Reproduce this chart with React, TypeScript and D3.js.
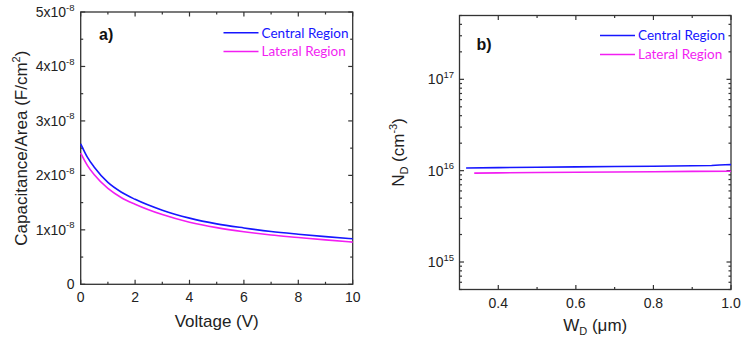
import * as d3 from "d3";

// panel a) C-V curves
const voltage = [0, 0.25, 0.5, 1, 1.5, 2, 3, 4, 5, 6, 7, 8, 9, 10];
const capCentral = [2.58, 2.33, 2.15, 1.87, 1.69, 1.56, 1.36, 1.215, 1.11, 1.035, 0.97, 0.92, 0.875, 0.835];
const capLateral = [2.41, 2.18, 2.01, 1.76, 1.59, 1.47, 1.28, 1.14, 1.04, 0.965, 0.905, 0.86, 0.815, 0.775];

// panel b) doping profile (x1e16 cm^-3)
const wCentral = [0.317, 0.4, 0.5, 0.6, 0.7, 0.8, 0.9, 0.95, 0.97, 0.985, 1.0];
const ndCentral = [1.07, 1.08, 1.09, 1.1, 1.11, 1.12, 1.13, 1.14, 1.155, 1.16, 1.165];
const wLateral = [0.338, 0.4, 0.5, 0.6, 0.7, 0.8, 0.9, 1.0];
const ndLateral = [0.94, 0.945, 0.955, 0.962, 0.968, 0.975, 0.982, 0.985];

const capTicks = [0, 1, 2, 3, 4, 5];
const voltTicks = [0, 2, 4, 6, 8, 10];
const wTicks = [0.4, 0.6, 0.8, 1.0];
const ndDecades = [15, 16, 17];

const seriesNames = ["Central Region", "Lateral Region"];
const BLUE = "#1616ff";
const MAGENTA = "#f21ef2";
const AXIS = "#333";
const FONT = "Arial, 'Liberation Sans', sans-serif";
const LEG_FONT = "Lato, 'Open Sans', sans-serif";

const MAJ = 4.5;
const MIN = 2.5;

function Frame({ x0, x1, y0, y1 }: { x0: number; x1: number; y0: number; y1: number }) {
  return (
    <rect x={x0} y={y0} width={x1 - x0} height={y1 - y0} fill="none" stroke={AXIS} strokeWidth={1.3} />
  );
}

function Legend({ x, y, gap }: { x: number; y: number; gap: number }) {
  const cols = [BLUE, MAGENTA];
  return (
    <g>
      {seriesNames.map((n, i) => (
        <g key={n}>
          <line x1={x} x2={x + 35} y1={y + i * gap} y2={y + i * gap} stroke={cols[i]} strokeWidth={1.5} />
          <text x={x + 38} y={y + i * gap + 4.8} fill={cols[i]} fontFamily={LEG_FONT} fontSize={13.5}>
            {n}
          </text>
        </g>
      ))}
    </g>
  );
}

function PanelA() {
  const x = d3.scaleLinear().domain([0, 10]).range([80.7, 352.7]);
  const y = d3.scaleLinear().domain([0, 5]).range([284.3, 12]);
  const [x0, x1] = x.range();
  const [y0, y1] = [y(5), y(0)];
  const line = d3.line<number>().x((_, i) => x(voltage[i])).y((d) => y(d)).curve(d3.curveMonotoneX);
  const minorX = d3.range(1, 10, 2);
  const minorY = d3.range(0.5, 5, 1);

  return (
    <g>
      <Frame x0={x0} x1={x1} y0={y0} y1={y1} />
      {voltTicks.map((t) => (
        <g key={"vx" + t}>
          <line x1={x(t)} x2={x(t)} y1={y1} y2={y1 - MAJ} stroke={AXIS} strokeWidth={1.2} />
          <line x1={x(t)} x2={x(t)} y1={y0} y2={y0 + MAJ} stroke={AXIS} strokeWidth={1.2} />
          <text x={x(t)} y={302} textAnchor="middle" fontFamily={FONT} fontSize={14} fill="#222">
            {t}
          </text>
        </g>
      ))}
      {minorX.map((t) => (
        <g key={"mx" + t}>
          <line x1={x(t)} x2={x(t)} y1={y1} y2={y1 - MIN} stroke={AXIS} strokeWidth={1.2} />
          <line x1={x(t)} x2={x(t)} y1={y0} y2={y0 + MIN} stroke={AXIS} strokeWidth={1.2} />
        </g>
      ))}
      {capTicks.map((t) => (
        <g key={"cy" + t}>
          <line x1={x0} x2={x0 + MAJ} y1={y(t)} y2={y(t)} stroke={AXIS} strokeWidth={1.2} />
          <line x1={x1} x2={x1 - MAJ} y1={y(t)} y2={y(t)} stroke={AXIS} strokeWidth={1.2} />
          <text x={74.5} y={y(t) + 5} textAnchor="end" fontFamily={FONT} fontSize={14} fill="#222">
            {t === 0 ? (
              "0"
            ) : (
              <>
                {t}x10
                <tspan fontSize={9.5} dy={-6.5}>
                  -8
                </tspan>
              </>
            )}
          </text>
        </g>
      ))}
      {minorY.map((t) => (
        <g key={"my" + t}>
          <line x1={x0} x2={x0 + MIN} y1={y(t)} y2={y(t)} stroke={AXIS} strokeWidth={1.2} />
          <line x1={x1} x2={x1 - MIN} y1={y(t)} y2={y(t)} stroke={AXIS} strokeWidth={1.2} />
        </g>
      ))}
      <path d={line(capLateral) || ""} fill="none" stroke={MAGENTA} strokeWidth={1.6} />
      <path d={line(capCentral) || ""} fill="none" stroke={BLUE} strokeWidth={1.6} />
      <Legend x={223.5} y={32.8} gap={18.8} />
      <text x={99} y={40} fontFamily={FONT} fontWeight="bold" fontSize={16} fill="#111">
        a)
      </text>
      <text x={(x0 + x1) / 2} y={327} textAnchor="middle" fontFamily={FONT} fontSize={17} fill="#222">
        Voltage (V)
      </text>
      <text
        transform={`translate(27,${(y0 + y1) / 2}) rotate(-90)`}
        textAnchor="middle"
        fontFamily={FONT}
        fontSize={17}
        fill="#222"
      >
        Capacitance/Area (F/cm
        <tspan fontSize={11} dy={-7}>
          2
        </tspan>
        <tspan dy={7}>)</tspan>
      </text>
    </g>
  );
}

function PanelB() {
  const x = d3.scaleLinear().domain([0.3, 1.0]).range([459.5, 731]);
  const y = d3.scaleLog().domain([5e14, 5e17]).range([289.5, 15.5]);
  const [x0, x1] = x.range();
  const [y0, y1] = [y(5e17), y(5e14)];
  const lineC = d3.line<number>().x((_, i) => x(wCentral[i])).y((d) => y(d * 1e16));
  const lineL = d3.line<number>().x((_, i) => x(wLateral[i])).y((d) => y(d * 1e16));
  const minorX = [0.5, 0.7, 0.9];
  const minorY: number[] = [];
  [14, 15, 16, 17].forEach((e) => {
    for (let m = 2; m <= 9; m++) {
      const v = m * Math.pow(10, e);
      if (v >= 5e14 && v <= 5e17) minorY.push(v);
    }
  });

  return (
    <g>
      <Frame x0={x0} x1={x1} y0={y0} y1={y1} />
      {wTicks.map((t) => (
        <g key={"wx" + t}>
          <line x1={x(t)} x2={x(t)} y1={y1} y2={y1 - MAJ} stroke={AXIS} strokeWidth={1.2} />
          <line x1={x(t)} x2={x(t)} y1={y0} y2={y0 + MAJ} stroke={AXIS} strokeWidth={1.2} />
          <text x={x(t)} y={307.5} textAnchor="middle" fontFamily={FONT} fontSize={14} fill="#222">
            {t.toFixed(1)}
          </text>
        </g>
      ))}
      {minorX.map((t) => (
        <g key={"mwx" + t}>
          <line x1={x(t)} x2={x(t)} y1={y1} y2={y1 - MIN} stroke={AXIS} strokeWidth={1.2} />
          <line x1={x(t)} x2={x(t)} y1={y0} y2={y0 + MIN} stroke={AXIS} strokeWidth={1.2} />
        </g>
      ))}
      {ndDecades.map((e) => {
        const v = Math.pow(10, e);
        return (
          <g key={"nd" + e}>
            <line x1={x0} x2={x0 + MAJ} y1={y(v)} y2={y(v)} stroke={AXIS} strokeWidth={1.2} />
            <line x1={x1} x2={x1 - MAJ} y1={y(v)} y2={y(v)} stroke={AXIS} strokeWidth={1.2} />
            <text x={454} y={y(v) + 5} textAnchor="end" fontFamily={FONT} fontSize={14} fill="#222">
              10
              <tspan fontSize={9.5} dy={-6.5}>
                {e}
              </tspan>
            </text>
          </g>
        );
      })}
      {minorY.map((v, i) => (
        <g key={"mny" + i}>
          <line x1={x0} x2={x0 + MIN} y1={y(v)} y2={y(v)} stroke={AXIS} strokeWidth={1.2} />
          <line x1={x1} x2={x1 - MIN} y1={y(v)} y2={y(v)} stroke={AXIS} strokeWidth={1.2} />
        </g>
      ))}
      <path d={lineL(ndLateral) || ""} fill="none" stroke={MAGENTA} strokeWidth={1.6} />
      <path d={lineC(ndCentral) || ""} fill="none" stroke={BLUE} strokeWidth={1.6} />
      <Legend x={600} y={35.5} gap={19} />
      <text x={476.5} y={50} fontFamily={FONT} fontWeight="bold" fontSize={16} fill="#111">
        b)
      </text>
      <text x={(x0 + x1) / 2} y={331} textAnchor="middle" fontFamily={FONT} fontSize={17} fill="#222">
        W
        <tspan fontSize={11} dy={4}>
          D
        </tspan>
        <tspan dy={-4}> (μm)</tspan>
      </text>
      <text
        transform={`translate(404,${(y0 + y1) / 2}) rotate(-90)`}
        textAnchor="middle"
        fontFamily={FONT}
        fontSize={17}
        fill="#222"
      >
        N
        <tspan fontSize={11} dy={4}>
          D
        </tspan>
        <tspan dy={-4}> (cm</tspan>
        <tspan fontSize={11} dy={-7}>
          -3
        </tspan>
        <tspan dy={7}>)</tspan>
      </text>
    </g>
  );
}

export default function App() {
  return (
    <div style={{ position: "absolute", left: 0, top: 0 }}>
      <svg width={748} height={340} style={{ display: "block", background: "#fff" }}>
        <PanelA />
        <PanelB />
      </svg>
    </div>
  );
}
